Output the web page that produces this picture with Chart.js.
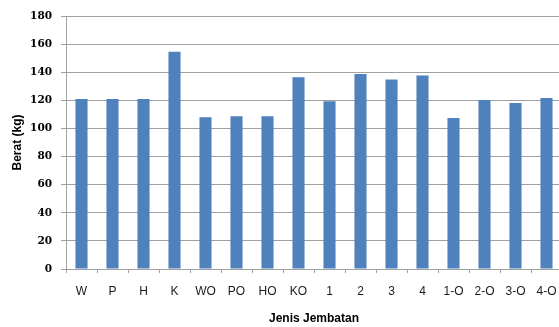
<!DOCTYPE html>
<html>
<head>
<meta charset="utf-8">
<script src="https://cdn.jsdelivr.net/npm/chart.js@4/dist/chart.umd.min.js"></script>
<style>
  html, body { margin: 0; padding: 0; background: #fff; overflow: hidden; }
  #wrap { position: absolute; left: 0; top: 0; width: 570px; height: 327px; }
</style>
</head>
<body>
<div id="wrap"><canvas id="c" width="570" height="327"></canvas></div>
<script>
// Bridge types and their weights
const categories = ['W', 'P', 'H', 'K', 'WO', 'PO', 'HO', 'KO', '1', '2', '3', '4', '1-O', '2-O', '3-O', '4-O'];
const beratKg = [121, 121, 121, 154.5, 108, 108.7, 108.7, 136.4, 119.4, 138.8, 134.8, 137.6, 107.5, 120.3, 118.1, 121.7];
const yTicks = [0, 20, 40, 60, 80, 100, 120, 140, 160, 180];

const gridGrey = '#a0a0a0';

new Chart(document.getElementById('c'), {
  type: 'bar',
  data: {
    labels: categories,
    datasets: [{
      label: 'Berat',
      data: beratKg,
      backgroundColor: '#4f81bd',
      borderWidth: 0,
      categoryPercentage: 1.0,
      barPercentage: 0.39
    }]
  },
  options: {
    responsive: false,
    animation: false,
    devicePixelRatio: 1,
    layout: { padding: { left: 10, right: 8, top: 16, bottom: 0 } },
    plugins: {
      legend: { display: false },
      tooltip: { enabled: false }
    },
    scales: {
      x: {
        offset: true,
        grid: {
          offset: true,
          drawOnChartArea: false,
          drawTicks: true,
          tickLength: 4,
          color: gridGrey
        },
        border: { display: true, color: gridGrey, width: 1 },
        ticks: {
          color: '#1a1a1a',
          font: { family: 'Liberation Sans', size: 12 },
          padding: 11,
          maxRotation: 0,
          autoSkip: false
        },
        title: {
          display: true,
          text: 'Jenis Jembatan',
          color: '#000',
          font: { family: 'Liberation Sans', size: 12, weight: 'bold' },
          padding: { top: 0, bottom: 1 }
        },
        afterFit: s => { s.height = 58; }
      },
      y: {
        min: 0,
        max: 180,
        afterBuildTicks: s => { s.ticks = yTicks.map(v => ({ value: v })); },
        grid: {
          color: gridGrey,
          lineWidth: 1,
          tickLength: 5,
          drawTicks: true
        },
        border: { display: true, color: gridGrey, width: 1 },
        ticks: {
          color: '#000',
          font: { family: 'DejaVu Serif', size: 10.5, weight: 'bold' },
          padding: 9
        },
        title: {
          display: true,
          text: 'Berat (kg)',
          color: '#000',
          font: { family: 'Liberation Sans', size: 12, weight: 'bold' },
          padding: { top: 0, bottom: 0 }
        },
        afterFit: s => { s.width = 56; }
      }
    }
  }
});
</script>
</body>
</html>
